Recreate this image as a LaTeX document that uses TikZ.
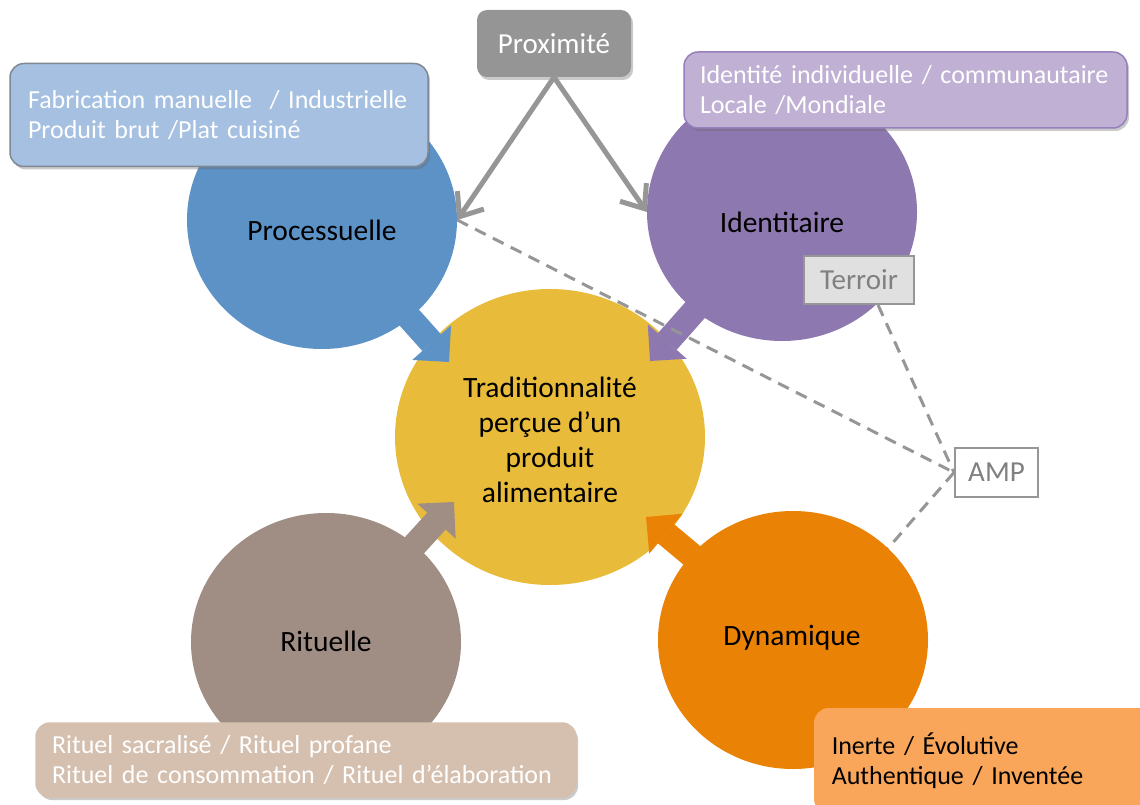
\documentclass[tikz,border=0pt]{standalone}
\usepackage{fontspec}
\setmainfont{Carlito}
\usetikzlibrary{arrows.meta,shapes.geometric,shadows,calc}
\definecolor{cblue}{RGB}{93,146,199}
\definecolor{cpurple}{RGB}{142,120,176}
\definecolor{cyellow}{RGB}{232,188,58}
\definecolor{cbrown}{RGB}{160,142,133}
\definecolor{corange}{RGB}{234,130,5}
\definecolor{fabfill}{RGB}{165,192,224}
\definecolor{fabdraw}{RGB}{128,136,148}
\definecolor{identfill}{RGB}{191,176,212}
\definecolor{identdraw}{RGB}{150,128,188}
\definecolor{ritfill}{RGB}{213,192,175}
\definecolor{inertfill}{RGB}{250,166,90}
\definecolor{proxfill}{RGB}{149,149,149}
\definecolor{linegray}{RGB}{150,150,150}
\definecolor{terroirfill}{RGB}{224,224,224}
\definecolor{tagtext}{RGB}{128,128,128}
\begin{document}
\begin{tikzpicture}[x=1pt,y=-1pt,
  bubble/.style={ellipse, inner sep=0pt, minimum width=270pt, minimum height=258pt},
  circtext/.style={font=\fontsize{29.5}{35}\selectfont, align=center, inner sep=0pt, text=black},
  blockarrow/.style={line width=25pt, -{Triangle[length=26pt,width=52pt,line width=0pt]}},
  proxarrow/.style={draw=linegray, line width=5pt, -{Straight Barb[length=20pt,width=32pt]}},
  dashline/.style={draw=linegray, line width=3pt, dash pattern=on 12pt off 8pt},
  infobox/.style={rounded corners=14pt, line width=1.5pt, align=left, inner ysep=0pt,
    font=\fontsize{26}{30}\selectfont,
    drop shadow={shadow xshift=2pt, shadow yshift=-3pt, opacity=0.35, fill=black!60}},
  tagbox/.style={draw=linegray, line width=2pt, text=tagtext, inner sep=0pt,
    font=\fontsize{29}{35}\selectfont}
]
\useasboundingbox (0,0) rectangle (1140,805);
\clip (0,0) rectangle (1140,805);

% central circle
\node[ellipse, inner sep=0pt, minimum width=310pt, minimum height=296pt, fill=cyellow] (trad) at (550,437) {};

% outer circles
\node[bubble, fill=cblue] (proc) at (322,220) {};
\node[bubble, fill=cpurple] (ident) at (782,212) {};
\node[bubble, fill=cbrown] (rit) at (326,642) {};
\node[bubble, fill=corange] (dyn) at (793,640) {};

% block arrows towards the centre
\coordinate (tipP) at (449,362);
\coordinate (tipI) at (650,361);
\coordinate (tipR) at (454,502);
\coordinate (tipD) at (646,517);
\draw[blockarrow, cblue] (proc.center) -- (tipP);
\draw[blockarrow, cpurple] (ident.center) -- (tipI);
\draw[blockarrow, cbrown] (rit.center) -- (tipR);
\draw[blockarrow, corange] (dyn.center) -- (tipD);

% circle texts
\node[circtext] at (322,230) {Processuelle};
\node[circtext] at (782,222) {Identitaire};
\node[circtext] at (326,641) {Rituelle};
\node[circtext] at (792,638) {Dynamique};
\node[circtext] at (550,440) {Traditionnalité\\perçue d’un\\produit\\alimentaire};

% proximity
\node[rounded corners=10pt, fill=proxfill, text=white, inner sep=0pt,
  minimum width=154pt, minimum height=67pt, font=\fontsize{29}{35}\selectfont,
  drop shadow={shadow xshift=2pt, shadow yshift=-3pt, opacity=0.35, fill=black!60}]
  (prox) at (554,43.5) {Proximité};
\draw[proxarrow] (prox.south) -- (proc.east);
\draw[proxarrow] (prox.south) -- (ident.west);

% tags
\node[tagbox, fill=terroirfill, minimum width=110pt, minimum height=48pt] (terroir) at (859,280) {Terroir};
\node[tagbox, fill=white, minimum width=83pt, minimum height=49pt] (amp) at (996.5,472.5) {AMP};

% dashed links
\draw[dashline] (proc.east) -- (amp.west);
\draw[dashline] ($(terroir.south west)!0.67!(terroir.south east)$) -- (amp.west);
\draw[dashline] (amp.west) -- (dyn.44);

% info boxes
\node[infobox, draw=fabdraw, fill=fabfill, text=white, text width=382pt, inner xsep=18pt,
  minimum height=103pt] (fab) at (219,115)
  {Fabrication manuelle\ \ / Industrielle\\Produit brut /Plat cuisiné};
\node[infobox, draw=identdraw, fill=identfill, text=white, text width=411pt, inner xsep=16pt,
  minimum height=76pt] (idbox) at (905.5,90)
  {Identité individuelle / communautaire\\Locale /Mondiale};
\node[infobox, draw=ritfill, fill=ritfill, text=white, text width=508pt, inner xsep=16pt,
  minimum height=74pt] (ritbox) at (306,760)
  {Rituel sacralisé / Rituel profane\\Rituel de consommation / Rituel d’élaboration};
\node[infobox, draw=inertfill, fill=inertfill, text=black, text width=326pt, inner xsep=17pt,
  minimum height=104pt, anchor=north west] (inbox) at (814,708)
  {Inerte / Évolutive\\Authentique / Inventée};
\end{tikzpicture}
\end{document}
